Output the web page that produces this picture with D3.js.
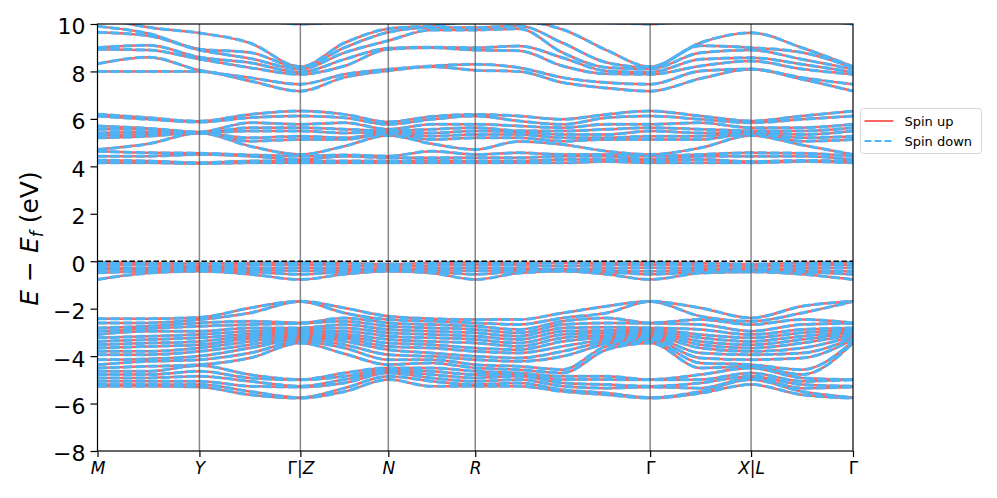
<!DOCTYPE html>
<html>
<head>
<meta charset="utf-8">
<script src="https://cdn.jsdelivr.net/npm/d3@7"></script>
<style>
  body { margin: 0; background: #fff; }
  text { font-family: "DejaVu Sans", sans-serif; }
</style>
</head>
<body>
<svg id="chart" width="997" height="498"></svg>
<script>
// k-path: high symmetry points
var tickPos = [0, 1.02, 2.03, 2.91, 3.78, 5.53, 6.54, 7.56];
var tickLabels = ["M", "Y", "Γ|Z", "N", "R", "Γ", "X|L", "Γ"];

// k positions where energies were read
var kPoints = [0, 0.51, 1.02, 1.525, 2.03, 2.47, 2.91, 3.345, 3.78, 4.2175, 4.655, 5.0925, 5.53, 6.035, 6.54, 7.05, 7.56];

// energies (eV) at each k point, sorted per k
var eUpper = [
  [8.0, 8.32, 8.94, 9.0, 9.65, 9.9, 10.3, 10.6],
  [8.0, 8.6, 8.9, 9.1, 9.5, 9.6, 9.86, 10.4],
  [8.0, 8.05, 8.52, 8.6, 8.9, 8.94, 9.62, 10.4],
  [7.6, 7.74, 8.16, 8.37, 8.55, 8.8, 9.2, 10.2],
  [7.17, 7.46, 7.88, 7.97, 8.1, 8.17, 8.2, 10.0],
  [7.75, 7.88, 8.23, 8.51, 8.79, 9.0, 9.2, 10.1],
  [8.03, 8.09, 8.94, 8.98, 9.3, 9.65, 9.8, 10.3],
  [8.2, 8.23, 9.0, 9.02, 9.75, 9.85, 9.92, 10.2],
  [8.05, 8.3, 8.9, 9.0, 9.75, 9.85, 10.1, 10.3],
  [8.0, 8.16, 8.87, 9.07, 9.8, 9.92, 10.1, 10.2],
  [7.53, 7.74, 8.23, 8.58, 8.79, 9.2, 9.77, 10.1],
  [7.3, 7.53, 7.9, 8.02, 8.17, 8.38, 8.9, 10.05],
  [7.17, 7.46, 7.88, 7.97, 8.1, 8.17, 8.2, 10.0],
  [7.7, 8.02, 8.23, 8.51, 8.79, 9.08, 9.21, 10.2],
  [8.09, 8.1, 8.44, 8.58, 8.9, 9.0, 9.63, 10.4],
  [7.67, 7.74, 8.1, 8.3, 8.51, 8.8, 9.0, 10.2],
  [7.17, 7.46, 7.88, 7.97, 8.1, 8.17, 8.2, 10.0]
];

var eCond = [
  [4.15, 4.26, 4.43, 4.64, 4.71, 5.2, 5.3, 5.41, 5.56, 5.7, 6.12, 6.2],
  [4.15, 4.22, 4.43, 4.57, 4.95, 5.27, 5.35, 5.45, 5.56, 5.6, 5.98, 6.05],
  [4.12, 4.15, 4.5, 4.55, 5.41, 5.41, 5.41, 5.41, 5.41, 5.45, 5.87, 5.9],
  [4.15, 4.22, 4.43, 4.48, 4.85, 5.06, 5.2, 5.49, 5.63, 5.84, 6.05, 6.19],
  [4.15, 4.22, 4.29, 4.43, 4.5, 5.13, 5.27, 5.49, 5.63, 5.77, 6.12, 6.33],
  [4.15, 4.22, 4.43, 4.48, 4.85, 5.13, 5.2, 5.41, 5.56, 5.84, 6.05, 6.19],
  [4.15, 4.22, 4.36, 4.43, 5.3, 5.38, 5.41, 5.45, 5.5, 5.56, 5.77, 5.87],
  [4.15, 4.25, 4.36, 4.64, 4.95, 5.13, 5.27, 5.41, 5.56, 5.77, 5.98, 6.1],
  [4.15, 4.22, 4.36, 4.5, 4.71, 5.2, 5.34, 5.49, 5.63, 5.77, 6.12, 6.19],
  [4.15, 4.22, 4.36, 4.57, 5.05, 5.2, 5.34, 5.45, 5.5, 5.7, 5.91, 6.12],
  [4.15, 4.29, 4.43, 4.5, 4.92, 5.06, 5.2, 5.34, 5.49, 5.63, 5.77, 5.98],
  [4.2, 4.29, 4.43, 4.5, 4.64, 5.13, 5.2, 5.34, 5.56, 5.77, 6.05, 6.19],
  [4.15, 4.22, 4.29, 4.43, 4.5, 5.13, 5.27, 5.49, 5.63, 5.77, 6.12, 6.33],
  [4.15, 4.29, 4.43, 4.5, 4.78, 5.13, 5.27, 5.41, 5.56, 5.84, 5.98, 6.12],
  [4.15, 4.2, 4.43, 4.57, 5.3, 5.38, 5.41, 5.45, 5.5, 5.63, 5.84, 5.91],
  [4.2, 4.25, 4.43, 4.55, 4.9, 5.06, 5.2, 5.34, 5.49, 5.63, 5.98, 6.12],
  [4.15, 4.22, 4.29, 4.43, 4.5, 5.13, 5.27, 5.49, 5.63, 5.77, 6.12, 6.33]
];

var eNearEf = [
  [-0.77, -0.49, -0.35, -0.25, -0.15, -0.05],
  [-0.5, -0.42, -0.35, -0.3, -0.17, -0.08],
  [-0.42, -0.4, -0.38, -0.3, -0.2, -0.1],
  [-0.55, -0.45, -0.38, -0.3, -0.17, -0.08],
  [-0.77, -0.55, -0.4, -0.28, -0.15, -0.05],
  [-0.55, -0.45, -0.38, -0.3, -0.18, -0.08],
  [-0.42, -0.4, -0.38, -0.33, -0.22, -0.12],
  [-0.5, -0.45, -0.38, -0.3, -0.18, -0.08],
  [-0.77, -0.55, -0.4, -0.28, -0.15, -0.05],
  [-0.5, -0.42, -0.38, -0.3, -0.17, -0.07],
  [-0.42, -0.4, -0.38, -0.33, -0.2, -0.08],
  [-0.55, -0.45, -0.4, -0.3, -0.17, -0.07],
  [-0.77, -0.55, -0.42, -0.28, -0.15, -0.05],
  [-0.5, -0.45, -0.38, -0.3, -0.18, -0.08],
  [-0.45, -0.42, -0.38, -0.33, -0.22, -0.12],
  [-0.55, -0.45, -0.4, -0.3, -0.18, -0.08],
  [-0.77, -0.55, -0.42, -0.28, -0.15, -0.05]
];

var eDeep = [
  [-5.27, -5.2, -5.06, -4.92, -4.78, -4.64, -4.5, -4.36, -4.15, -3.94, -3.8, -3.66, -3.52, -3.38, -3.23, -3.09, -2.95, -2.81, -2.6, -2.42],
  [-5.27, -5.2, -5.06, -4.92, -4.78, -4.64, -4.43, -4.22, -4.12, -3.94, -3.8, -3.59, -3.45, -3.3, -3.16, -2.95, -2.84, -2.74, -2.6, -2.42],
  [-5.3, -5.2, -5.06, -4.85, -4.64, -4.4, -4.36, -4.15, -4.0, -3.8, -3.66, -3.52, -3.38, -3.23, -3.09, -2.95, -2.74, -2.6, -2.46, -2.37],
  [-5.63, -5.49, -5.27, -5.06, -4.92, -4.78, -4.08, -3.87, -3.66, -3.52, -3.38, -3.26, -3.16, -3.07, -2.95, -2.81, -2.67, -2.53, -2.18, -1.97],
  [-5.77, -5.75, -5.3, -5.27, -5.0, -4.99, -3.45, -3.38, -3.3, -3.23, -3.16, -3.09, -3.0, -2.95, -2.88, -2.81, -2.62, -2.6, -1.7, -1.69],
  [-5.5, -5.35, -5.13, -4.99, -4.85, -4.71, -3.9, -3.66, -3.52, -3.38, -3.26, -3.16, -3.07, -2.95, -2.81, -2.67, -2.53, -2.39, -2.18, -1.97],
  [-4.99, -4.85, -4.71, -4.64, -4.57, -4.5, -4.36, -4.15, -3.94, -3.73, -3.59, -3.45, -3.3, -3.16, -3.02, -2.88, -2.74, -2.6, -2.46, -2.32],
  [-5.27, -5.06, -4.92, -4.78, -4.64, -4.5, -4.29, -4.15, -4.01, -3.87, -3.66, -3.52, -3.38, -3.23, -3.09, -2.95, -2.81, -2.67, -2.53, -2.42],
  [-5.27, -5.2, -5.06, -4.92, -4.78, -4.64, -4.5, -4.36, -4.15, -4.01, -3.8, -3.66, -3.45, -3.3, -3.16, -3.02, -2.88, -2.74, -2.6, -2.46],
  [-5.27, -5.13, -4.99, -4.85, -4.78, -4.71, -4.57, -4.43, -4.22, -4.08, -3.87, -3.73, -3.59, -3.45, -3.3, -3.16, -3.02, -2.88, -2.67, -2.46],
  [-5.49, -5.42, -5.27, -5.13, -4.99, -4.85, -4.71, -4.57, -4.01, -3.8, -3.59, -3.38, -3.23, -3.09, -2.95, -2.81, -2.67, -2.53, -2.39, -2.18],
  [-5.63, -5.56, -5.35, -5.2, -4.99, -4.85, -3.73, -3.59, -3.48, -3.38, -3.3, -3.21, -3.12, -3.02, -2.92, -2.78, -2.6, -2.39, -2.18, -1.9],
  [-5.77, -5.75, -5.3, -5.27, -5.0, -4.99, -3.45, -3.38, -3.3, -3.23, -3.16, -3.09, -3.0, -2.95, -2.88, -2.81, -2.62, -2.6, -1.7, -1.69],
  [-5.56, -5.49, -5.35, -5.13, -4.99, -4.78, -4.5, -4.29, -4.08, -3.87, -3.66, -3.52, -3.38, -3.23, -3.09, -2.88, -2.67, -2.46, -2.32, -1.97],
  [-5.2, -4.99, -4.92, -4.85, -4.71, -4.5, -4.43, -4.36, -4.15, -3.94, -3.8, -3.66, -3.52, -3.38, -3.23, -3.09, -2.95, -2.67, -2.53, -2.39],
  [-5.63, -5.49, -5.35, -5.2, -5.06, -4.92, -4.78, -4.57, -4.08, -3.87, -3.66, -3.45, -3.3, -3.16, -3.02, -2.88, -2.67, -2.46, -2.18, -1.9],
  [-5.77, -5.75, -5.3, -5.27, -5.0, -4.99, -3.45, -3.38, -3.3, -3.23, -3.16, -3.09, -3.0, -2.95, -2.88, -2.81, -2.62, -2.6, -1.7, -1.69]
];

var yTicks = [-8, -6, -4, -2, 0, 2, 4, 6, 8, 10];
var spinColors = {up: "#f8665f", down: "#4db4f6"};

var plot = {left: 97.5, right: 853, top: 24, bottom: 451};

var svg = d3.select("#chart");

var xScale = d3.scaleLinear().domain([0, tickPos[tickPos.length - 1]]).range([plot.left, plot.right]);
var yScale = d3.scaleLinear().domain([-8, 10]).range([plot.bottom, plot.top]);

svg.append("defs").append("clipPath")
    .attr("id", "clip")
    .append("rect")
    .attr("x", plot.left)
    .attr("y", plot.top)
    .attr("width", plot.right - plot.left)
    .attr("height", plot.bottom - plot.top);

// one band = one column of the k-rows
var bands = [];
[eUpper, eCond, eNearEf, eDeep].forEach(function (group) {
    d3.transpose(group).forEach(function (b) {
        bands.push(b.map(function (e, i) { return [kPoints[i], e]; }));
    });
});

var line = d3.line()
    .x(function (d) { return xScale(d[0]); })
    .y(function (d) { return yScale(d[1]); })
    .curve(d3.curveMonotoneX);

var bandGroup = svg.append("g").attr("clip-path", "url(#clip)");

bandGroup.append("g").selectAll("path")
    .data(bands).enter().append("path")
    .attr("d", line)
    .attr("fill", "none")
    .attr("stroke", spinColors.up)
    .attr("stroke-width", 2.5);

bandGroup.append("g").selectAll("path")
    .data(bands).enter().append("path")
    .attr("d", line)
    .attr("fill", "none")
    .attr("stroke", spinColors.down)
    .attr("stroke-width", 3)
    .attr("stroke-dasharray", "9.3,3.4");

// high symmetry verticals
svg.append("g").selectAll("line")
    .data(tickPos.slice(1, -1)).enter().append("line")
    .attr("x1", function (d) { return xScale(d); })
    .attr("x2", function (d) { return xScale(d); })
    .attr("y1", plot.top)
    .attr("y2", plot.bottom)
    .attr("stroke", "#555")
    .attr("stroke-opacity", 0.7)
    .attr("stroke-width", 1.5);

// Fermi level
svg.append("line")
    .attr("x1", plot.left).attr("x2", plot.right)
    .attr("y1", yScale(0)).attr("y2", yScale(0))
    .attr("stroke", "#000")
    .attr("stroke-width", 1.6)
    .attr("stroke-dasharray", "5.5,2.5");

// axes
var yAxis = d3.axisLeft(yScale)
    .tickValues(yTicks)
    .tickSize(7)
    .tickPadding(5)
    .tickFormat(function (d) { return d < 0 ? "\u2212" + Math.abs(d) : d; });

var gy = svg.append("g")
    .attr("transform", "translate(" + plot.left + ",0)")
    .call(yAxis);
gy.select(".domain").remove();
gy.selectAll("line").attr("stroke-width", 1.2);
gy.selectAll("text").style("font-size", "22px").attr("font-family", "DejaVu Sans").attr("dy", "0.45em");

var xAxis = d3.axisBottom(xScale)
    .tickValues(tickPos)
    .tickSize(6)
    .tickPadding(3)
    .tickFormat(function () { return ""; });

var gx = svg.append("g")
    .attr("transform", "translate(0," + plot.bottom + ")")
    .call(xAxis);
gx.select(".domain").remove();
gx.selectAll("line").attr("stroke-width", 1.2);

gx.selectAll(".tick").each(function (d, i) {
    var t = d3.select(this).select("text")
        .attr("y", 8)
        .attr("dy", "0.9em")
        .style("font-size", "17px")
        .attr("font-family", "DejaVu Sans");
    t.text(null);
    tickLabels[i].split("").forEach(function (ch) {
        t.append("tspan")
            .attr("font-style", (ch === "Γ" || ch === "|") ? "normal" : "italic")
            .text(ch);
    });
});

// frame
svg.append("rect")
    .attr("x", plot.left).attr("y", plot.top)
    .attr("width", plot.right - plot.left)
    .attr("height", plot.bottom - plot.top)
    .attr("fill", "none")
    .attr("stroke", "#000")
    .attr("stroke-width", 1.2);

// y label
var ylab = svg.append("text")
    .attr("transform", "translate(38," + ((plot.top + plot.bottom) / 2 + 1) + ") rotate(-90)")
    .attr("text-anchor", "middle")
    .style("font-size", "25px");
ylab.append("tspan").attr("font-style", "italic").text("E");
ylab.append("tspan").text(" \u2212 ");
ylab.append("tspan").attr("font-style", "italic").text("E");
ylab.append("tspan").attr("font-style", "italic").attr("font-size", "17px").attr("dy", "5").text("f");
ylab.append("tspan").attr("dy", "-5").text(" (eV)");

// legend
var legend = svg.append("g").attr("transform", "translate(860.5,108.5)");
legend.append("rect")
    .attr("width", 121).attr("height", 45).attr("rx", 3)
    .attr("fill", "#fff").attr("stroke", "#d6d6d6");
var legendItems = [
    {label: "Spin up", color: spinColors.up, dash: null},
    {label: "Spin down", color: spinColors.down, dash: "7,3"}
];
legendItems.forEach(function (it, i) {
    var yy = 12.5 + i * 20;
    legend.append("line")
        .attr("x1", 4).attr("x2", 33)
        .attr("y1", yy).attr("y2", yy)
        .attr("stroke", it.color)
        .attr("stroke-width", 2)
        .attr("stroke-dasharray", it.dash);
    legend.append("text")
        .attr("x", 44).attr("y", yy + 4.5)
        .style("font-size", "13px")
        .text(it.label);
});
</script>
</body>
</html>
